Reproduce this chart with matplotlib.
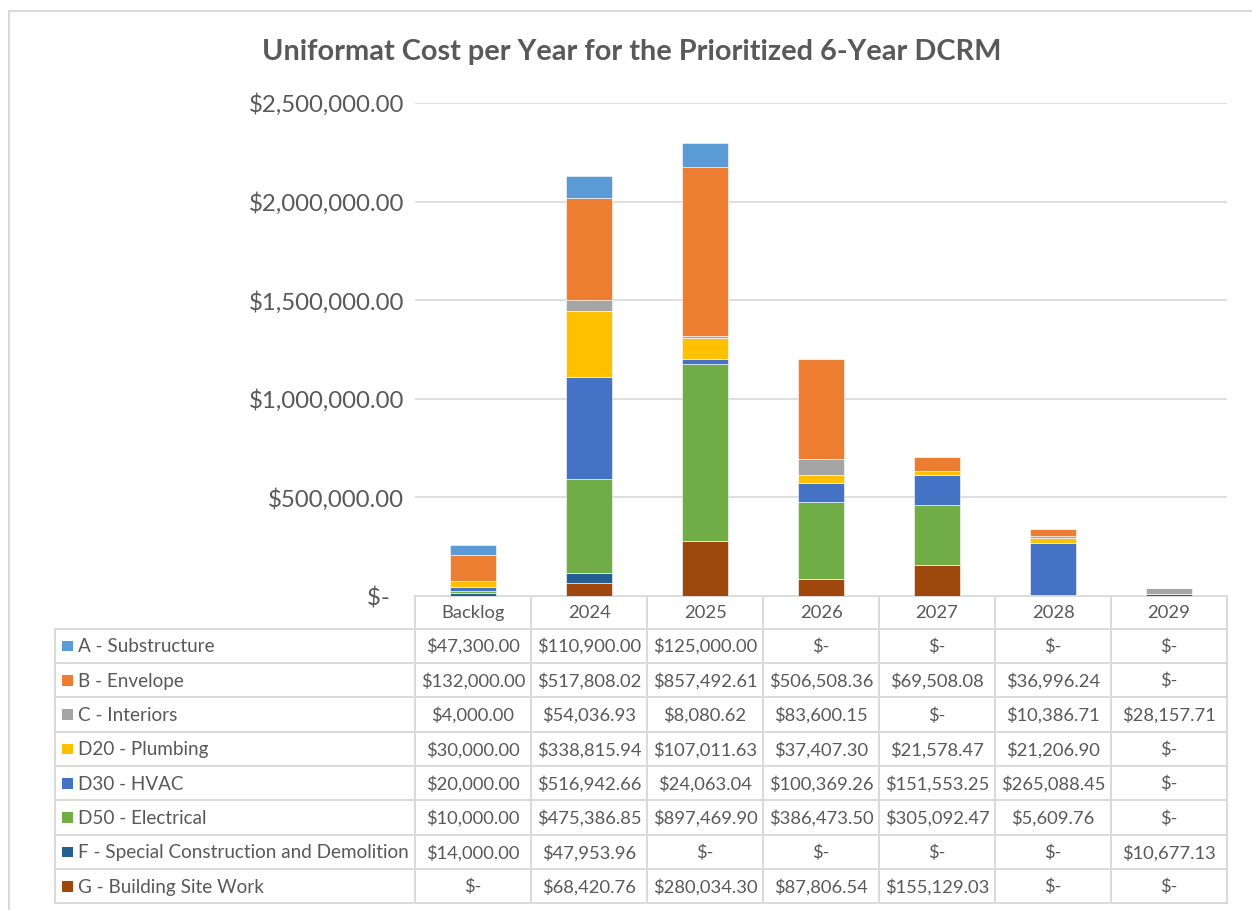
import matplotlib
matplotlib.use("Agg")
import matplotlib.pyplot as plt
from matplotlib.patches import Rectangle
from matplotlib.ticker import FuncFormatter

plt.rcParams['font.family'] = ['Lato', 'DejaVu Sans']

categories = ["Backlog", "2024", "2025", "2026", "2027", "2028", "2029"]

series_names = [
    "A - Substructure",
    "B - Envelope",
    "C - Interiors",
    "D20 - Plumbing",
    "D30 - HVAC",
    "D50 - Electrical",
    "F - Special Construction and Demolition",
    "G - Building Site Work",
]

substructure = [47300.00, 110900.00, 125000.00, 0, 0, 0, 0]
envelope = [132000.00, 517808.02, 857492.61, 506508.36, 69508.08, 36996.24, 0]
interiors = [4000.00, 54036.93, 8080.62, 83600.15, 0, 10386.71, 28157.71]
plumbing = [30000.00, 338815.94, 107011.63, 37407.30, 21578.47, 21206.90, 0]
hvac = [20000.00, 516942.66, 24063.04, 100369.26, 151553.25, 265088.45, 0]
electrical = [10000.00, 475386.85, 897469.90, 386473.50, 305092.47, 5609.76, 0]
special = [14000.00, 47953.96, 0, 0, 0, 0, 10677.13]
site_work = [0, 68420.76, 280034.30, 87806.54, 155129.03, 0, 0]

series_values = [substructure, envelope, interiors, plumbing, hvac,
                 electrical, special, site_work]

colors = ["#5B9BD5", "#ED7D31", "#A5A5A5", "#FFC000",
          "#4472C4", "#70AD47", "#255E91", "#9E480E"]

y_ticks = [0, 500000, 1000000, 1500000, 2000000, 2500000]

TEXT = "#595959"
GRID = "#D9D9D9"
W, H = 1252, 910


def money(v):
    if v == 0:
        return "$-"
    return "${:,.2f}".format(v)


def axis_money(v, pos):
    # accounting style: the zero dash sits inset from the right edge
    if v == 0:
        return "$-\u2007"
    return money(v)


fig = plt.figure(figsize=(W / 100, H / 100), dpi=100)
fig.patch.set_facecolor("white")

# full-figure overlay in pixel coordinates for the frame and the data table
over = fig.add_axes([0, 0, 1, 1])
over.set_xlim(0, W)
over.set_ylim(H, 0)
over.axis("off")

# chart frame
over.plot([8.5, 8.5], [910, 11], color=GRID, lw=1.5)
over.plot([8.5, 1252], [11, 11], color=GRID, lw=1.5)

# plot area
x0, x1 = 415, 1227
y_top, y_bot = 103, 596
ax = fig.add_axes([x0 / W, 1 - y_bot / H, (x1 - x0) / W, (y_bot - y_top) / H])
ax.set_xlim(-0.5, len(categories) - 0.5)
ax.set_ylim(0, 2500000)
ax.set_yticks(y_ticks)
ax.yaxis.set_major_formatter(FuncFormatter(axis_money))
ax.tick_params(axis="y", length=0, pad=8, labelsize=17.3, labelcolor=TEXT)
ax.tick_params(axis="x", length=0, labelbottom=False)
ax.grid(axis="y", color=GRID, lw=1.2)
ax.set_axisbelow(True)
for s in ax.spines.values():
    s.set_visible(False)

# stacked bars: G at the bottom, A on top
xs = list(range(len(categories)))
bottom = [0.0] * len(categories)
for name, vals, col in reversed(list(zip(series_names, series_values, colors))):
    ax.bar(xs, vals, width=0.405, bottom=bottom, color=col,
           edgecolor="white", linewidth=0.4, label=name)
    bottom = [b + v for b, v in zip(bottom, vals)]

fig.text(632 / W, 1 - 52 / H,
         "Uniformat Cost per Year for the Prioritized 6-Year DCRM",
         ha="center", va="center", fontsize=20.8, fontweight="bold",
         color=TEXT)

# data table
col_edges = [415 + 116 * i for i in range(len(categories) + 1)]
label_left = 55
head_top, head_bot = 596, 628.5
row_h = 34.35
n_rows = len(series_names)
table_bot = head_bot + row_h * n_rows
lw_t = 1.4

# header row
over.plot([col_edges[0], col_edges[-1]], [head_top, head_top], color=GRID, lw=lw_t)
for cx in col_edges:
    over.plot([cx, cx], [head_top, table_bot], color=GRID, lw=lw_t)
for i, c in enumerate(categories):
    over.text((col_edges[i] + col_edges[i + 1]) / 2, (head_top + head_bot) / 2 + 1,
              c, ha="center", va="center", fontsize=13.2, color=TEXT)

# body rows
for r in range(n_rows + 1):
    yy = head_bot + r * row_h
    over.plot([label_left, col_edges[-1]], [yy, yy], color=GRID, lw=lw_t)
over.plot([label_left, label_left], [head_bot, table_bot], color=GRID, lw=lw_t)

for r, (name, vals, col) in enumerate(zip(series_names, series_values, colors)):
    yc = head_bot + r * row_h + row_h / 2
    over.add_patch(Rectangle((62, yc - 5), 10.5, 10.5, facecolor=col, edgecolor="none"))
    over.text(78, yc + 1, name, ha="left", va="center", fontsize=13.6, color=TEXT)
    for i, v in enumerate(vals):
        over.text((col_edges[i] + col_edges[i + 1]) / 2, yc + 1, money(v),
                  ha="center", va="center", fontsize=13.2, color=TEXT)

fig.savefig("out.png", dpi=100, facecolor="white")
